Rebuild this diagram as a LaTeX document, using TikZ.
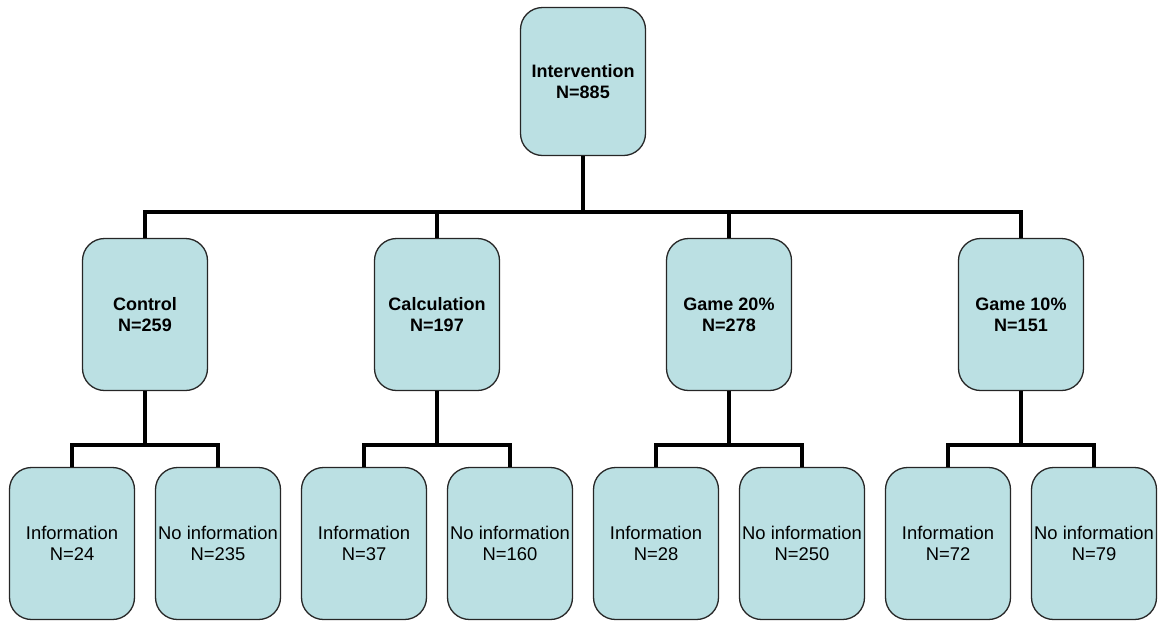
\documentclass[tikz,border=0pt]{standalone}
\usepackage{fontspec}
\setmainfont{Liberation Sans}
\usetikzlibrary{positioning}
\definecolor{boxfill}{RGB}{187,224,227}

\begin{document}
\begin{tikzpicture}[x=1pt, y=-1pt,
    box/.style={draw=black!85, line width=1.3pt, fill=boxfill, rounded corners=22pt,
      minimum width=125pt, minimum height=152pt, inner sep=0pt, align=center,
      font=\fontsize{18.4}{21}\selectfont},
    group/.style={box, font=\fontsize{18}{21}\selectfont\bfseries},
    conn/.style={line width=4pt}]
    \useasboundingbox (0,0) rectangle (1163,622);
    % root
    \node[group, minimum height=148pt] (root) at (583,81.5) {Intervention\\N=885};
    % treatment arms
    \node[group] (ctrl) at (145,314.5) {Control\\N=259};
    \node[group] (calc) at (437,314.5) {Calculation\\N=197};
    \node[group] (gtw) at (729,314.5) {Game 20\%\\N=278};
    \node[group] (gten) at (1021,314.5) {Game 10\%\\N=151};
    % information split
    \foreach \arm/\ni/\nn in {ctrl/24/235, calc/37/160, gtw/28/250, gten/72/79}{%
      \node[box] (\arm-info) at ([xshift=-73pt,yshift=-229pt]\arm.center) {Information\\N=\ni};
      \node[box] (\arm-noinfo) at ([xshift=73pt,yshift=-229pt]\arm.center) {No information\\N=\nn};
      \draw[conn] (\arm.south) -- ++(0,54) -| (\arm-info.north);
      \draw[conn] (\arm.south) -- ++(0,54) -| (\arm-noinfo.north);}
    % root to arms
    \foreach \arm in {ctrl,calc,gtw,gten}{%
      \draw[conn] (root.south) -- ++(0,56) -| (\arm.north);}
  \end{tikzpicture}
\end{document}
